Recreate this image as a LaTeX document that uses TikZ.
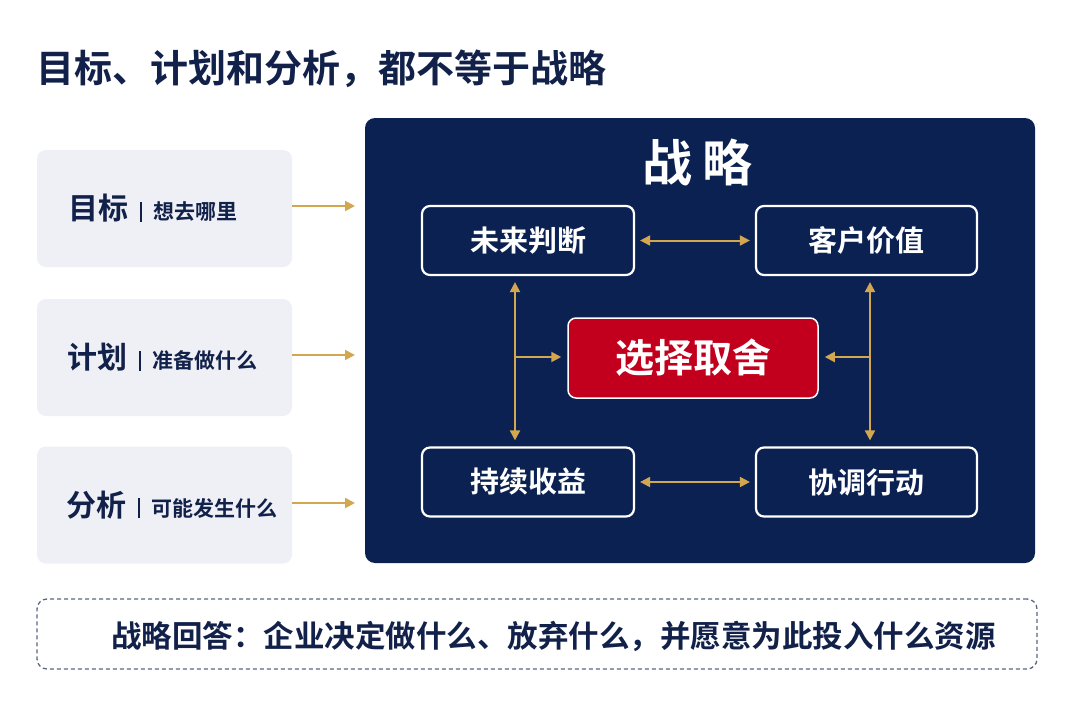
\documentclass[tikz,border=0pt]{standalone}
\usepackage{fontspec}
\setmainfont{Noto Sans CJK SC}[BoldFont={Noto Sans CJK SC Bold}]
\usepackage{xcolor}
\usepackage{tikz}
\usetikzlibrary{arrows.meta}
\usetikzlibrary{positioning}
\usetikzlibrary{calc}

\definecolor{navy}{HTML}{0B2152}
\definecolor{inkblue}{HTML}{12214A}
\definecolor{gold}{HTML}{D3A650}
\definecolor{crimson}{HTML}{C2001E}
\definecolor{paleg}{HTML}{EEF0F5}
\definecolor{dashg}{HTML}{5C6680}

\newcommand{\fs}[1]{\fontsize{#1}{#1}\selectfont}

\begin{document}
\begin{tikzpicture}[x=1pt, y=-1pt]
                \tikzstyle{sidebox} = [rectangle, rounded corners=9pt, fill=paleg, minimum width=255pt, minimum height=117pt, inner sep=0pt]
                \tikzstyle{sidetext} = [anchor=west, text=inkblue, font=\bfseries, inner sep=0pt]
                \tikzstyle{stepbox} = [rectangle, rounded corners=8pt, draw=white, line width=2.2pt, fill=navy, text=white, font=\bfseries\fs{29}, minimum width=212pt, minimum height=69pt]
                \tikzstyle{goldline} = [draw=gold, line width=2pt]
                \tikzstyle{tip} = [-{Triangle[length=10pt,width=10pt]}]
                \tikzstyle{tips} = [{Triangle[length=10pt,width=10pt]}-{Triangle[length=10pt,width=10pt]}]
                \useasboundingbox[fill=white] (0,0) rectangle (1080,720);
                %% Title
                \node[anchor=west, inner sep=0pt, text=inkblue, font=\bfseries\fs{38}] (title) at (36, 69) {目标、计划和分析，都不等于战略};
                %% Left column
                \node[sidebox] (goal) at (164.5, 208.5) {};
                \node[sidebox] (plan) at (164.5, 357.5) {};
                \node[sidebox] (anal) at (164.5, 505) {};
                \node[sidetext] (goalt) at (68, 208.5) {\fs{30}目标\hspace{12pt}\textcolor{inkblue}{\rule[-2pt]{1.3pt}{20pt}}\hspace{12pt}\fs{21}想去哪里};
                \node[sidetext] (plant) at (67, 357.5) {\fs{30}计划\hspace{12pt}\textcolor{inkblue}{\rule[-2pt]{1.3pt}{20pt}}\hspace{12pt}\fs{21}准备做什么};
                \node[sidetext] (analt) at (66, 505) {\fs{30}分析\hspace{12pt}\textcolor{inkblue}{\rule[-2pt]{1.3pt}{20pt}}\hspace{12pt}\fs{21}可能发生什么};
                %% Strategy panel
                \node[rectangle, rounded corners=10pt, fill=navy, minimum width=670pt, minimum height=445pt, inner sep=0pt] (panel) at (700, 340.5) {};
                \node[text=white, font=\bfseries\fs{50}, inner sep=0pt] (ptitle) at (697, 162) {战\hspace{10pt}略};
                %% Inputs
                \coordinate (in1) at (355, 206);
                \coordinate (in2) at (355, 355);
                \coordinate (in3) at (355, 503);
                \draw[goldline, tip] (goal.east |- in1) -- (in1);
                \draw[goldline, tip] (plan.east |- in2) -- (in2);
                \draw[goldline, tip] (anal.east |- in3) -- (in3);
                %% Boxes
                \node[stepbox] (future) at (528, 240.5) {未来判断};
                \node[stepbox, minimum width=221pt] (value) at (866.5, 240.5) {客户价值};
                \node[stepbox] (gain) at (528, 482) {持续收益};
                \node[stepbox, minimum width=221pt] (act) at (866.5, 482) {协调行动};
                \node[rectangle, rounded corners=8pt, draw=white, line width=1.5pt, fill=crimson, text=white, font=\bfseries\fs{39}, minimum width=250pt, minimum height=80pt] (choice) at (693, 358) {选择取舍};
                %% Edges
                \draw[goldline, tips, shorten <=5pt, shorten >=5pt] (future) -- (value);
                \draw[goldline, tips, shorten <=5pt, shorten >=5pt] (gain) -- (act);
                \draw[goldline, tips, shorten <=6pt, shorten >=6pt] ($(future.south)+(-13,0)$) -- ($(gain.north)+(-13,0)$);
                \draw[goldline, tips, shorten <=6pt, shorten >=6pt] ($(value.south)+(3.5,0)$) -- ($(act.north)+(3.5,0)$);
                \draw[goldline, tip, shorten >=6pt] (515, 357) -- (choice.west |- 0, 357);
                \draw[goldline, tip, shorten >=6pt] (870, 357) -- (choice.east |- 0, 357);
                %% Answer
                \node[rectangle, rounded corners=10pt, draw=dashg, line width=1.3pt, dash pattern=on 4pt off 3pt, minimum width=1000pt, minimum height=70pt] (answer) at (537, 634) {};
                \node[anchor=west, inner sep=0pt, text=inkblue, font=\bfseries\fs{30.5}] (answert) at (111, 636) {战略回答：企业决定做什么、放弃什么，并愿意为此投入什么资源};
 \end{tikzpicture}
\end{document}
